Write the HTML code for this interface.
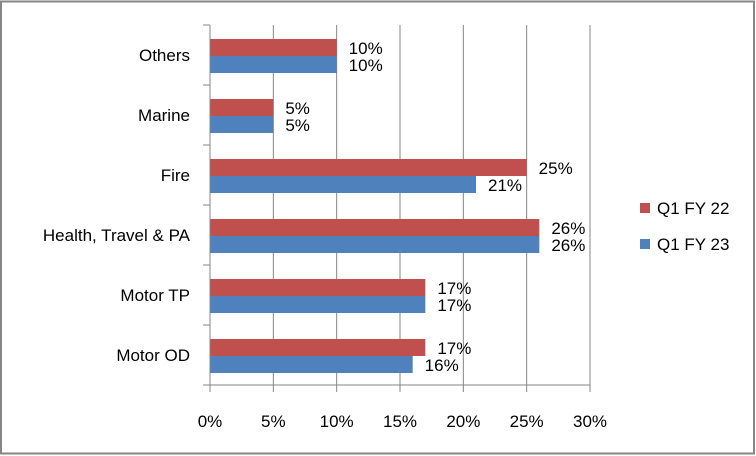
<!DOCTYPE html>
<html><head><meta charset="utf-8"><style>
body{margin:0;background:#fff}
svg{display:block;font-family:"Liberation Sans",sans-serif}
</style></head><body>
<svg id="c" width="756" height="456">
<rect x="1" y="1.5" width="753" height="452" fill="#fff" stroke="#868686" stroke-width="2"/>
</svg>
<script>
const categories=["Others","Marine","Fire","Health, Travel & PA","Motor TP","Motor OD"];
const fy22=[10,5,25,26,17,17];
const fy23=[10,5,21,26,17,16];
const ticks=[0,5,10,15,20,25,30];
const seriesNames=["Q1 FY 22","Q1 FY 23"];
const colors=["#c0504d","#4f81bd"];
const svg=document.getElementById('c');
const NS="http://www.w3.org/2000/svg";
const X0=210,X1=590,Y0=25,BAND=60;
const xs=v=>X0+(X1-X0)*v/30;
function mk(t,a,txt){const e=document.createElementNS(NS,t);for(const k in a)e.setAttribute(k,a[k]);if(txt!=null)e.textContent=txt;svg.appendChild(e);return e;}
const bot=Y0+BAND*categories.length;
ticks.forEach(t=>{
 const g=mk('line',{x1:xs(t),x2:xs(t),y1:Y0,y2:bot+7,stroke:'#868686','stroke-width':1});
 
 
 const l=mk('text',{x:xs(t),y:427,'text-anchor':'middle','font-size':17,fill:'#000'},t+'%');
 
 
});
for(let i=0;i<=categories.length;i++){
 const t=mk('line',{x1:203,x2:X0,y1:Y0+BAND*i,y2:Y0+BAND*i,stroke:'#868686'});
 
 
}
categories.forEach((c,i)=>{
 const yc=Y0+BAND*i+BAND/2;
 const l=mk('text',{x:190,y:yc+6,'text-anchor':'end','font-size':17,fill:'#000'},c);
 
 
 [fy22,fy23].forEach((arr,s)=>{
  const y=yc-16+s*17;
  const r=mk('rect',{x:X0,y:y,width:xs(arr[i])-X0,height:17,fill:colors[s]});
  
  
  const v=mk('text',{x:xs(arr[i])+12,y:y+15,'font-size':17,fill:'#000'},arr[i]+'%');
  
  
 });
});
mk('line',{x1:X0,x2:X0,y1:Y0,y2:bot,stroke:'#868686'});
mk('line',{x1:X0,x2:X1,y1:bot,y2:bot,stroke:'#868686'});
seriesNames.forEach((n,s)=>{
 const y=208+s*36;
 const r=mk('rect',{x:640,y:y-5,width:10,height:10,fill:colors[s]});
 
 
 const t=mk('text',{x:657,y:y+6,'font-size':17,fill:'#000'},n);
 
 
});
</script>
</body></html>
